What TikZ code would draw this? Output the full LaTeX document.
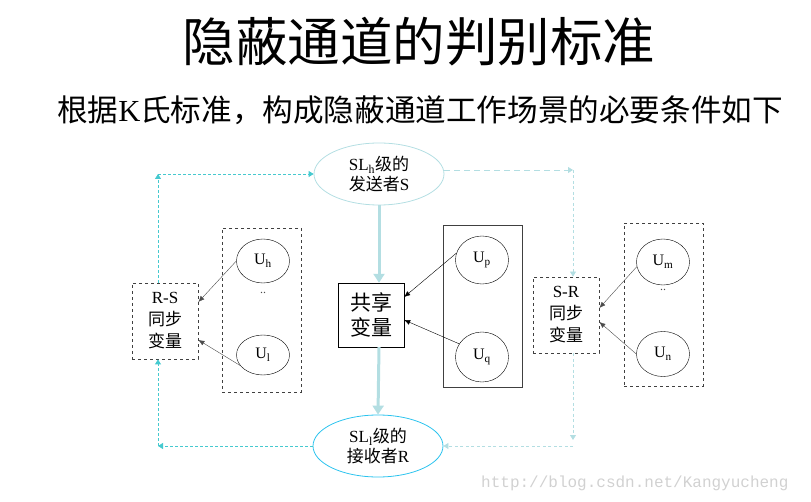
\documentclass[tikz,border=0pt]{standalone}
\usepackage{fontspec}
\setmainfont{Liberation Serif}
\setmonofont{Liberation Mono}
\newfontfamily\cjk{Noto Sans CJK SC}
\usetikzlibrary{arrows.meta}
\usetikzlibrary{shapes.geometric}
\usetikzlibrary{positioning}
\definecolor{paleCyan}{HTML}{B3DEE2}
\definecolor{turq}{HTML}{45C9CF}
\definecolor{skyBlue}{HTML}{2BC3EE}
\tikzset{
  % sender and receiver
  actor/.style={ellipse,draw=#1,thick,minimum width=130pt,minimum height=62pt,
    inner sep=0pt,align=center,font=\fontsize{17}{20}\selectfont},
  % the users U_x
  user/.style={ellipse,draw,minimum width=53pt,minimum height=46pt,
    inner sep=0pt,font=\fontsize{16}{18}\selectfont},
  varbox/.style={draw,align=center,font=\fontsize{21}{25}\selectfont,
    minimum width=66pt,minimum height=64pt,inner sep=0pt},
  syncbox/.style={draw=black!75,dashed,thick,align=center,
    font=\fontsize{17}{22}\selectfont,minimum width=66pt,minimum height=76pt,inner sep=0pt},
  group/.style={draw=black!75,minimum width=79pt,minimum height=163pt},
  % flows between the parts
  flowL/.style={-{Triangle[width=6pt,length=5pt]},turq,thick,dash pattern=on 3pt off 2pt},
  flowR/.style={-{Triangle[width=6pt,length=5pt]},paleCyan,thick,dash pattern=on 3pt off 2.5pt},
  flowM/.style={-{Triangle[width=11pt,length=9pt]},paleCyan,line width=3pt},
  feed/.style={-{Latex[length=6pt,width=5pt]},thin},
  dots/.style={font=\fontsize{12}{12}\selectfont,text=black!70},
}
\begin{document}
\begin{tikzpicture}[x=1pt,y=-1pt]
  \useasboundingbox (0,0) rectangle (811,502);
  \node (title) at (419,42) {\cjk\fontsize{52.5}{58}\selectfont 隐蔽通道的判别标准};
  \node (sub) at (420,110) {\fontsize{30.6}{36}\selectfont{\cjk 根据}K{\cjk 氏标准，构成隐蔽通道工作场景的必要条件如下}};

  \node[actor=paleCyan] (send) at (379,174) {SL\textsubscript{h}{\cjk 级的}\\{\cjk 发送者}S};
  \node[actor=skyBlue] (recv) at (378,446) {SL\textsubscript{l}{\cjk 级的}\\{\cjk 接收者}R};

  % middle: shared variable
  \node[varbox] (shared) at (371,315) {{\cjk 共享}\\{\cjk 变量}};
  \node[group,minimum height=162pt] (grpM) at (482.5,306) {};
  \node[user,minimum height=48pt] (up) at (482,260) {U\textsubscript{p}};
  \node[user,minimum height=50pt] (uq) at (482,357) {U\textsubscript{q}};

  % left: R-S sync
  \node[syncbox] (rs) at (165,321) {R-S\\{\cjk 同步}\\{\cjk 变量}};
  \node[group,dashed,thick,minimum height=164pt] (grpL) at (261.5,310) {};
  \node[user,minimum height=44pt] (uh) at (263,261) {U\textsubscript{h}};
  \node[user,minimum height=40pt] (ul) at (263,355) {U\textsubscript{l}};
  \node[dots,below=6pt of uh] (dotsL) {..};

  % right: S-R sync
  \node[syncbox] (sr) at (566,315) {S-R\\{\cjk 同步}\\{\cjk 变量}};
  \node[group,dashed,thick] (grpR) at (663.5,304.5) {};
  \node[user] (um) at (663,262) {U\textsubscript{m}};
  \node[user,minimum height=45pt] (un) at (663,354) {U\textsubscript{n}};
  \node[dots,below=1pt of um] (dotsR) {..};

  \coordinate (tl) at (158,174);
  \coordinate (bl) at (158,446);
  \coordinate (tr) at (573,170);
  \coordinate (br) at (573,440);

  \draw[flowM] (send.south) -- (send.south |- shared.north);
  \draw[flowM] (send.south |- shared.south) -- (recv.north);

  \draw[flowL] (rs.north -| tl) -- (tl);
  \draw[flowL] (tl) -- (send.west);
  \draw[flowL] (recv.west) -- (bl);
  \draw[flowL] (bl) -- (rs.south -| bl);

  \draw[flowR,dash pattern=on 6pt off 4pt] (send.east |- tr) -- (tr);
  \draw[flowR] (tr) -- (sr.north -| tr);
  \draw[flowR] (sr.south -| tr) -- (br);
  \draw[flowR] (br |- recv.east) -- (recv.east);

  \draw[feed,black!70] (uh.west) -- ([yshift=19pt]rs.east);
  \draw[feed,black!70] (ul.205) -- ([yshift=-19pt]rs.east);
  \draw[feed] (up.165) -- ([yshift=18pt]shared.east);
  \draw[feed] (uq.150) -- ([yshift=-5pt]shared.east);
  \draw[feed,black!70] (um.190) -- ([yshift=7pt]sr.east);
  \draw[feed,black!70] (un.west) -- ([yshift=-7pt]sr.east);

  \node[anchor=east,font=\ttfamily\fontsize{16}{18}\selectfont,text=black!18] (mark) at (792,483) {http://blog.csdn.net/Kangyucheng};
\end{tikzpicture}
\end{document}
